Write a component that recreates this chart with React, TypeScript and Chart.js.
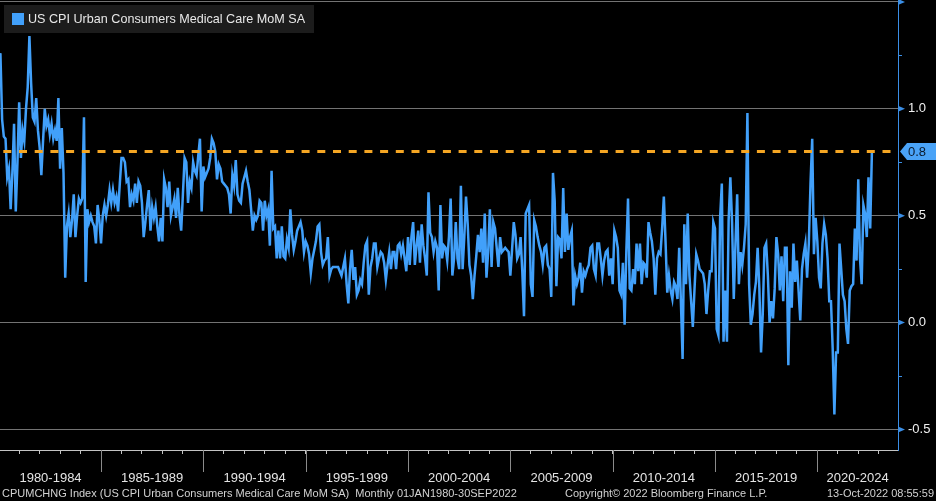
import React, { useEffect, useRef } from "react";
import { Chart, registerables } from "chart.js";

Chart.register(...registerables);

const SERIES_LABEL = "US CPI Urban Consumers Medical Care MoM SA";

const periodLabels = [
  "1980-1984", "1985-1989", "1990-1994", "1995-1999", "2000-2004",
  "2005-2009", "2010-2014", "2015-2019", "2020-2024",
];
const MONTHS_PER_PERIOD = 60;

const yMajorTicks = [-0.5, 0, 0.5, 1.0, 1.5];
const yMinorTicks = [-0.25, 0.25, 0.75, 1.25];
const yLabelledTicks = [-0.5, 0, 0.5, 1.0];

const footerLeft = "CPUMCHNG Index (US CPI Urban Consumers Medical Care MoM SA)  Monthly 01JAN1980-30SEP2022";
const footerMid = "Copyright\u00A9 2022 Bloomberg Finance L.P.";
const footerRight = "13-Oct-2022 08:55:59";

// Monthly % change, Jan 1980 .. Sep 2022
const mom1980_1984 = [
  1.2, 1.26, 0.95, 0.87, 0.86, 0.68, 0.72, 0.53, 0.7, 0.93, 0.52, 0.75,
  1.03, 0.77, 0.9, 0.85, 1.0, 1.1, 1.34, 1.12, 0.96, 0.94, 1.05, 0.9,
  0.82, 0.69, 0.85, 1.0, 0.92, 0.95, 0.88, 0.93, 0.86, 0.9, 0.85, 1.05,
  0.72, 0.91, 0.7, 0.21, 0.45, 0.51, 0.4, 0.48, 0.6, 0.4, 0.5, 0.58,
  0.56, 0.58, 0.96, 0.19, 0.53, 0.47, 0.5, 0.47, 0.45, 0.37, 0.55, 0.48,
];
const mom1985_1989 = [
  0.37, 0.5, 0.55, 0.5, 0.55, 0.62, 0.56, 0.62, 0.56, 0.59, 0.52, 0.65,
  0.77, 0.77, 0.75, 0.66, 0.67, 0.54, 0.6, 0.57, 0.65, 0.56, 0.66, 0.64,
  0.56, 0.4, 0.47, 0.55, 0.62, 0.43, 0.54, 0.49, 0.54, 0.45, 0.38, 0.49,
  0.38, 0.67, 0.63, 0.54, 0.66, 0.5, 0.54, 0.58, 0.49, 0.63, 0.5, 0.43,
  0.6, 0.77, 0.75, 0.56, 0.66, 0.63, 0.75, 0.71, 0.69, 0.78, 0.86, 0.52,
];
const mom1990_1994 = [
  0.73, 0.68, 0.7, 0.72, 0.77, 0.86, 0.84, 0.8, 0.67, 0.74, 0.72, 0.66,
  0.65, 0.64, 0.63, 0.6, 0.51, 0.69, 0.64, 0.76, 0.6, 0.57, 0.56, 0.65,
  0.68, 0.71, 0.66, 0.62, 0.53, 0.43, 0.5, 0.48, 0.5, 0.57, 0.56, 0.43,
  0.57, 0.5, 0.53, 0.36, 0.71, 0.44, 0.45, 0.3, 0.43, 0.3, 0.45, 0.31,
  0.3, 0.39, 0.35, 0.53, 0.41, 0.34, 0.38, 0.43, 0.45, 0.47, 0.43, 0.33,
];
const mom1995_1999 = [
  0.38, 0.36, 0.32, 0.23, 0.3, 0.34, 0.38, 0.45, 0.46, 0.33, 0.27, 0.29,
  0.3, 0.4, 0.22, 0.25, 0.26, 0.26, 0.26, 0.26, 0.24, 0.22, 0.26, 0.3,
  0.18, 0.09, 0.25, 0.34, 0.2, 0.26, 0.13, 0.15, 0.2, 0.18, 0.28, 0.36,
  0.38, 0.13, 0.26, 0.3, 0.37, 0.37, 0.26, 0.3, 0.33, 0.32, 0.28, 0.2,
  0.27, 0.33, 0.25, 0.33, 0.33, 0.25, 0.36, 0.37, 0.32, 0.36, 0.3, 0.24,
];
const mom2000_2004 = [
  0.4, 0.27, 0.4, 0.47, 0.27, 0.36, 0.43, 0.28, 0.46, 0.36, 0.3, 0.22,
  0.61, 0.42, 0.4, 0.33, 0.38, 0.35, 0.15, 0.55, 0.3, 0.36, 0.35, 0.29,
  0.4, 0.58, 0.22, 0.3, 0.47, 0.3, 0.25, 0.64, 0.25, 0.4, 0.59, 0.46,
  0.27, 0.22, 0.11, 0.22, 0.31, 0.41, 0.33, 0.44, 0.28, 0.51, 0.21, 0.33,
  0.53, 0.26, 0.47, 0.44, 0.35, 0.26, 0.4, 0.33, 0.34, 0.35, 0.34, 0.33,
];
const mom2005_2009 = [
  0.22, 0.34, 0.47, 0.41, 0.3, 0.32, 0.4, 0.24, 0.03, 0.51, 0.53, 0.55,
  0.18, 0.12, 0.48, 0.45, 0.4, 0.36, 0.33, 0.27, 0.35, 0.36, 0.27, 0.25,
  0.12, 0.7, 0.57, 0.17, 0.4, 0.39, 0.3, 0.63, 0.33, 0.51, 0.34, 0.4,
  0.43, 0.08, 0.22, 0.18, 0.21, 0.28, 0.14, 0.24, 0.22, 0.25, 0.27, 0.35,
  0.36, 0.25, 0.22, 0.37, 0.37, 0.3, 0.22, 0.29, 0.33, 0.34, 0.22, 0.3,
];
const mom2010_2014 = [
  0.18, 0.43, 0.4, 0.35, 0.15, 0.13, 0.28, -0.01, 0.33, 0.58, 0.16, 0.15,
  0.25, 0.18, 0.37, 0.24, 0.37, 0.18, 0.28, 0.27, 0.21, 0.47, 0.42, 0.38,
  0.3, 0.13, 0.3, 0.33, 0.32, 0.44, 0.59, 0.38, 0.14, 0.22, 0.15, 0.11,
  0.19, 0.17, 0.11, 0.35, 0.1, -0.17, 0.46, 0.18, 0.51, 0.22, 0.1, -0.02,
  0.16, 0.32, 0.29, 0.25, 0.24, 0.23, 0.18, 0.04, 0.15, 0.24, 0.24, 0.47,
];
const mom2015_2019 = [
  0.44, -0.03, -0.06, 0.49, 0.65, -0.09, 0.15, -0.09, 0.48, 0.68, 0.47, 0.11,
  0.37, 0.6, 0.18, 0.33, 0.27, 0.35, 0.46, 0.98, 0.18, -0.01, 0.04, 0.13,
  0.19, 0.35, 0.16, -0.14, 0.04, 0.35, 0.37, 0.22, 0.0, 0.1, 0.02, 0.16,
  0.4, 0.32, 0.15, 0.31, 0.1, 0.35, 0.35, -0.2, 0.24, 0.07, 0.37, 0.19,
  0.29, 0.15, 0.01, 0.25, 0.32, 0.37, 0.21, 0.37, 0.65, 0.86, 0.32, 0.49,
];
const mom2020_2022 = [
  0.38, 0.21, 0.16, 0.37, 0.46, 0.41, 0.3, 0.1, 0.1, -0.12, -0.43, -0.14,
  -0.14, 0.37, 0.25, 0.13, 0.1, -0.03, -0.1, 0.15, 0.17, 0.18, 0.44, 0.29,
  0.67, 0.3, 0.18, 0.55, 0.51, 0.4, 0.68, 0.44, 0.8,
];

const momValues = [
  ...mom1980_1984, ...mom1985_1989, ...mom1990_1994, ...mom1995_1999,
  ...mom2000_2004, ...mom2005_2009, ...mom2010_2014, ...mom2015_2019,
  ...mom2020_2022,
];
const lastValue = momValues[momValues.length - 1];

// axis window (months since Jan 1980)
const X_MIN = 0.76;
const X_MAX = 527.3;
const Y_MIN = -0.596;
const Y_MAX = 1.509;

const BLUE = "#41a0fa";
const AXIS_BLUE = "#3a8ee6";
const ORANGE = "#f5a623";
const FONT = '"Liberation Sans", Arial, sans-serif';

const overlayPlugin = {
  id: "bbgOverlay",
  afterDraw(chart: any) {
    const { ctx, chartArea, scales } = chart;
    const xs = scales.x;
    const ys = scales.y;
    const W = chart.width;
    ctx.save();

    // period separators and labels
    ctx.strokeStyle = "#8a8a8a";
    ctx.lineWidth = 1;
    ctx.font = `13px ${FONT}`;
    ctx.fillStyle = "#e4e4e4";
    ctx.textAlign = "center";
    ctx.textBaseline = "alphabetic";
    periodLabels.forEach((lab, k) => {
      const m0 = k * MONTHS_PER_PERIOD;
      const m1 = m0 + MONTHS_PER_PERIOD;
      const p0 = Math.max(xs.getPixelForValue(m0), chartArea.left);
      const p1 = Math.min(xs.getPixelForValue(m1), chartArea.right);
      if (k > 0) {
        const px = Math.round(p0) + 0.5;
        ctx.beginPath();
        ctx.moveTo(px, chartArea.bottom);
        ctx.lineTo(px, chartArea.bottom + 22);
        ctx.stroke();
      }
      ctx.fillText(lab, (p0 + p1) / 2, chartArea.bottom + 31.5);
    });

    // arrow marks on major y ticks
    ctx.fillStyle = AXIS_BLUE;
    yMajorTicks.forEach((v) => {
      const y = ys.getPixelForValue(v);
      const x = chartArea.right;
      ctx.beginPath();
      ctx.moveTo(x, y - 3);
      ctx.lineTo(x + 7, y);
      ctx.lineTo(x, y + 3);
      ctx.closePath();
      ctx.fill();
    });

    // last value marker
    const yl = ys.getPixelForValue(lastValue);
    const xr = chartArea.right;
    ctx.fillStyle = "#4aa3f7";
    ctx.beginPath();
    ctx.moveTo(xr + 2, yl);
    ctx.lineTo(xr + 9, yl - 8.5);
    ctx.lineTo(W, yl - 8.5);
    ctx.lineTo(W, yl + 8.5);
    ctx.lineTo(xr + 9, yl + 8.5);
    ctx.closePath();
    ctx.fill();
    ctx.fillStyle = "#0b1a2c";
    ctx.font = `13px ${FONT}`;
    ctx.textAlign = "left";
    ctx.textBaseline = "middle";
    ctx.fillText(lastValue.toFixed(1), xr + 10, yl + 0.5);

    // legend
    ctx.fillStyle = "#1c1c1c";
    ctx.fillRect(4, 5, 310, 28);
    ctx.fillStyle = BLUE;
    ctx.fillRect(12, 13, 12, 12);
    ctx.fillStyle = "#e8e8e8";
    ctx.font = `12.6px ${FONT}`;
    ctx.textAlign = "left";
    ctx.textBaseline = "middle";
    ctx.fillText(SERIES_LABEL, 28, 19.5);

    // footer
    ctx.fillStyle = "#d2d2d2";
    ctx.font = `11px ${FONT}`;
    ctx.textBaseline = "alphabetic";
    ctx.textAlign = "left";
    ctx.fillText(footerLeft, 2, 497);
    ctx.fillText(footerMid, 565, 497);
    ctx.textAlign = "right";
    ctx.fillText(footerRight, 934, 497);

    ctx.restore();
  },
};

export default function App() {
  const canvasRef = useRef<HTMLCanvasElement | null>(null);

  useEffect(() => {
    const canvas = canvasRef.current;
    if (!canvas) return;
    const yearTicks: number[] = [];
    for (let m = 12; m < X_MAX; m += 12) yearTicks.push(m);
    const yAllTicks = [...yMajorTicks, ...yMinorTicks].sort((a, b) => a - b);

    const chart = new Chart(canvas, {
      type: "line",
      data: {
        datasets: [
          {
            label: SERIES_LABEL,
            data: momValues.map((v, i) => ({ x: i, y: v })),
            borderColor: BLUE,
            borderWidth: 2.5,
            pointRadius: 0,
            tension: 0,
            order: 1,
          },
          {
            label: "last",
            data: [
              { x: X_MIN, y: lastValue },
              { x: X_MAX, y: lastValue },
            ],
            borderColor: ORANGE,
            borderWidth: 3,
            borderDash: [8, 7.7],
            borderDashOffset: 12.4,
            borderCapStyle: "butt",
            pointRadius: 0,
            order: 0,
          },
        ],
      },
      options: {
        animation: false,
        responsive: false,
        maintainAspectRatio: false,
        layout: { padding: 0 },
        plugins: {
          legend: { display: false },
          tooltip: { enabled: false },
        },
        scales: {
          x: {
            type: "linear",
            position: "bottom",
            min: X_MIN,
            max: X_MAX,
            afterBuildTicks: (scale: any) => {
              scale.ticks = yearTicks.map((v) => ({ value: v }));
            },
            afterFit: (scale: any) => {
              scale.height = 51;
              scale.paddingLeft = 0;
              scale.paddingRight = 0;
            },
            ticks: { display: false },
            grid: {
              drawOnChartArea: false,
              drawTicks: true,
              tickLength: 4,
              color: "#c4c4c4",
              tickColor: "#c4c4c4",
            },
            border: { display: true, color: "#c4c4c4", width: 1 },
          },
          y: {
            type: "linear",
            position: "right",
            min: Y_MIN,
            max: Y_MAX,
            afterBuildTicks: (scale: any) => {
              scale.ticks = yAllTicks.map((v) => ({ value: v }));
            },
            afterFit: (scale: any) => {
              scale.width = 38;
              scale.paddingTop = 0;
              scale.paddingBottom = 0;
            },
            ticks: {
              color: "#f0f0f0",
              padding: 6,
              font: { family: FONT, size: 13 },
              callback: (v: any) => {
                const n = Number(v);
                return yLabelledTicks.some((t) => Math.abs(t - n) < 1e-9) ? n.toFixed(1) : "";
              },
            },
            grid: {
              drawOnChartArea: true,
              drawTicks: true,
              tickLength: 4,
              color: (c: any) =>
                yMajorTicks.some((t) => Math.abs(t - (c.tick ? c.tick.value : NaN)) < 1e-9)
                  ? "#737373"
                  : "rgba(0,0,0,0)",
              tickColor: AXIS_BLUE,
            },
            border: { display: true, color: AXIS_BLUE, width: 1 },
          },
        },
      },
      plugins: [overlayPlugin],
    } as any);

    return () => chart.destroy();
  }, []);

  return (
    <div
      style={{
        position: "fixed",
        left: 0,
        top: 0,
        width: 936,
        height: 501,
        background: "#000",
      }}
    >
      <canvas ref={canvasRef} width={936} height={501} style={{ display: "block" }} />
    </div>
  );
}
